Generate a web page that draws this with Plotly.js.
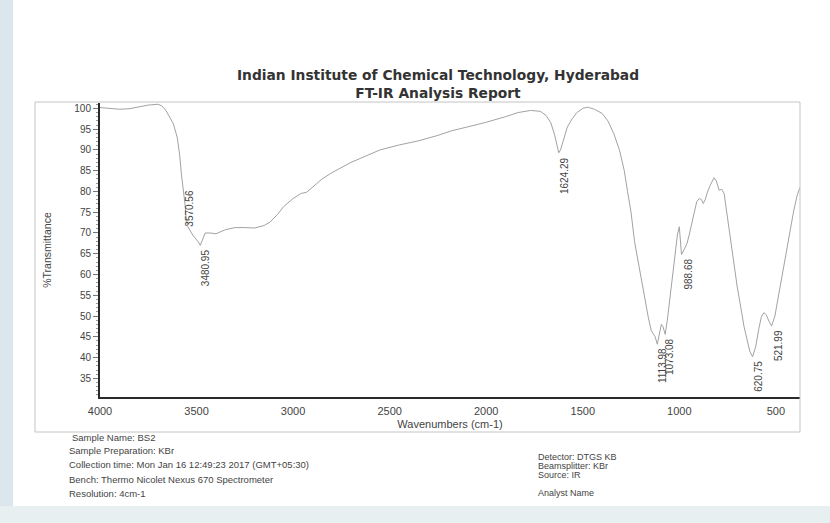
<!DOCTYPE html>
<html>
<head>
<meta charset="utf-8">
<script src="https://cdn.plot.ly/plotly-3.0.1.min.js"></script>
<style>
  html, body { margin: 0; padding: 0; background: #ffffff; }
  #chart { width: 830px; height: 523px; }
</style>
</head>
<body>
<div id="chart"></div>
<script>
// ---- Data ----
const wavenumbers = [
  4000, 3950, 3900, 3850, 3800, 3750, 3700, 3680, 3660, 3640, 3620, 3600, 3588, 3578,
  3570.56, 3560, 3555, 3545, 3520, 3500, 3490, 3480.95, 3470, 3455, 3430, 3400, 3350,
  3300, 3250, 3200, 3150, 3120, 3080, 3050, 3000, 2960, 2930, 2900, 2850, 2800,
  2700, 2625, 2550, 2450, 2350, 2250, 2180, 2100, 2005, 1900, 1835, 1770, 1720,
  1690, 1665, 1645, 1630, 1624.29, 1615, 1600, 1580, 1555, 1530, 1500, 1475,
  1440, 1400, 1370, 1340, 1310, 1285, 1268, 1250, 1232, 1215, 1190, 1160, 1145,
  1125, 1113.98, 1105, 1093, 1085, 1073.08, 1062, 1046, 1030, 1020, 1010, 1000,
  995, 988.68, 975, 960, 949, 935, 923, 910, 897, 885, 876, 866, 856, 840, 820,
  808, 794, 780, 768, 755, 740, 718, 700, 685, 665, 650, 635, 620.75, 605, 588,
  575, 562, 550, 536, 521.99, 505, 490, 479, 460, 443, 425, 407, 390, 375
];
const transmittance = [
  100.2, 100.0, 99.8, 99.9, 100.3, 100.8, 101.0, 100.6, 99.6, 98.0, 96.3, 93.0, 89.0, 84.0,
  81.5, 77.0, 74.0, 71.5, 69.5, 68.5, 67.8, 67.0, 68.5, 70.0, 70.0, 69.8, 70.8,
  71.3, 71.3, 71.2, 71.8, 72.6, 74.5, 76.3, 78.3, 79.5, 79.8, 81.0, 83.0, 84.5,
  87.0, 88.5, 90.0, 91.2, 92.2, 93.5, 94.6, 95.5, 96.6, 98.0, 99.0, 99.5, 99.3,
  98.3, 96.5, 93.5, 90.5, 89.3, 90.0, 92.5, 95.5, 97.5, 99.0, 100.0, 100.3,
  99.8, 98.8, 97.0, 94.0, 90.0, 85.0, 80.0, 75.0, 68.0, 63.5, 57.5, 49.5, 46.5,
  45.0, 43.2, 45.0, 48.0, 47.5, 45.6, 49.0, 55.5, 62.0, 66.0, 69.5, 71.5,
  69.0, 64.8, 66.0, 67.5, 69.5, 72.5, 75.2, 77.5, 78.3, 78.0, 77.1, 78.0, 79.6, 81.5, 83.3,
  82.5, 80.3, 80.5, 79.5, 75.0, 70.0, 63.5, 57.0, 53.0, 47.5, 44.5, 41.5, 40.2, 42.5, 47.0,
  49.8, 50.8, 50.3, 48.8, 47.6, 50.0, 54.0, 56.0, 62.0, 66.5, 71.0, 75.5, 79.0, 81.0
];
const peakWavenumbers = [3570.56, 3480.95, 1624.29, 1113.98, 1073.08, 988.68, 620.75, 521.99];
const peakLabels = ["3570.56", "3480.95", "1624.29", "1113.98", "1073.08", "988.68", "620.75", "521.99"];
const yTickValues = [35, 40, 45, 50, 55, 60, 65, 70, 75, 80, 85, 90, 95, 100];
const xTickValues = [4000, 3500, 3000, 2500, 2000, 1500, 1000, 500];
const infoLeft = [
  "Sample Name: BS2",
  "Sample Preparation: KBr",
  "Collection time: Mon Jan 16 12:49:23 2017 (GMT+05:30)",
  "Bench: Thermo Nicolet Nexus 670 Spectrometer",
  "Resolution: 4cm-1"
];
const infoRight = ["Detector: DTGS KB", "Beamsplitter: KBr", "Source: IR", "Analyst Name"];

// ---- Layout helpers (pixel -> paper) ----
const W = 830, H = 523;
const L = 100, R = 30, T = 103, B = 126;
const pw = W - L - R, ph = H - T - B;
const px = x => (x - L) / pw;
const py = y => (H - B - y) / ph;

const FONT = "Liberation Sans, Arial, sans-serif";
const annotations = [];

// peak labels, anchored to the curve values
const labelShift = [7, 6, 6, 5, 5, 7, 6, 7];
peakWavenumbers.forEach((w, i) => {
  const idx = wavenumbers.indexOf(w);
  annotations.push({
    x: w, y: transmittance[idx], xref: "x", yref: "y",
    text: peakLabels[i], showarrow: false, textangle: -90,
    xanchor: "center", yanchor: "top", xshift: labelShift[i], yshift: -2,
    font: { family: FONT, size: 10, color: "#444" }
  });
});

const leftY = [437, 450, 464, 479, 493];
infoLeft.forEach((t, i) => {
  annotations.push({
    x: px(i === 0 ? 70 : 67), y: py(leftY[i]), xref: "paper", yref: "paper",
    text: t, showarrow: false, xanchor: "left", yanchor: "middle",
    font: { family: FONT, size: 9.5, color: "#444" }
  });
});
const rightY = [457, 466, 475, 493];
infoRight.forEach((t, i) => {
  annotations.push({
    x: px(536), y: py(rightY[i]), xref: "paper", yref: "paper",
    text: t, showarrow: false, xanchor: "left", yanchor: "middle",
    font: { family: FONT, size: 9, color: "#444" }
  });
});

const shapes = [
  // scanner strips
  { type: "rect", xref: "paper", yref: "paper", x0: px(0), x1: px(13), y0: py(H), y1: py(0),
    line: { width: 0 }, fillcolor: "#dbe7ec", layer: "below" },
  { type: "rect", xref: "paper", yref: "paper", x0: px(0), x1: px(W), y0: py(H), y1: py(506),
    line: { width: 0 }, fillcolor: "#e8eff1", layer: "below" },
  // outer report frame
  { type: "rect", xref: "paper", yref: "paper", x0: px(35), x1: px(800), y0: py(432), y1: py(102),
    line: { color: "#c4c4c4", width: 1 }, fillcolor: "rgba(0,0,0,0)" }
];

const trace = {
  x: wavenumbers, y: transmittance, type: "scatter", mode: "lines",
  line: { color: "#a2a2a2", width: 1 }, hoverinfo: "skip"
};

const layout = {
  width: W, height: H,
  margin: { l: L, r: R, t: T, b: B, pad: 0 },
  paper_bgcolor: "#ffffff", plot_bgcolor: "#ffffff",
  showlegend: false,
  title: {
    text: "<b>Indian Institute of Chemical Technology, Hyderabad</b><br><b>FT-IR Analysis Report</b>",
    font: { family: "DejaVu Sans, sans-serif", size: 13.8, color: "#333" },
    x: 438 / W, xanchor: "center", xref: "container",
    y: 1 - 80 / H, yanchor: "top", yref: "container"
  },
  xaxis: {
    range: [4000, 375], tickvals: xTickValues, ticks: "", showgrid: false, zeroline: false,
    showline: true, linecolor: "#2a2a2a", linewidth: 2, ticklabelstandoff: 3,
    tickfont: { family: FONT, size: 11, color: "#444" },
    title: { text: "Wavenumbers (cm-1)", font: { family: FONT, size: 11, color: "#444" }, standoff: 4 },
    automargin: false
  },
  yaxis: {
    range: [30.5, 101.3], tickvals: yTickValues, ticks: "outside", ticklen: 5, tickcolor: "#777",
    showgrid: false, zeroline: false, showline: true, linecolor: "#2a2a2a", linewidth: 2,
    minor: { dtick: 1, ticks: "outside", ticklen: 2, tickcolor: "#999", showgrid: false },
    tickfont: { family: FONT, size: 10, color: "#444" },
    title: { text: "%Transmittance", font: { family: FONT, size: 10.5, color: "#444" }, standoff: 21 },
    automargin: false
  },
  annotations: annotations,
  shapes: shapes
};

Plotly.newPlot("chart", [trace], layout, { staticPlot: true, displayModeBar: false });
</script>
</body>
</html>
